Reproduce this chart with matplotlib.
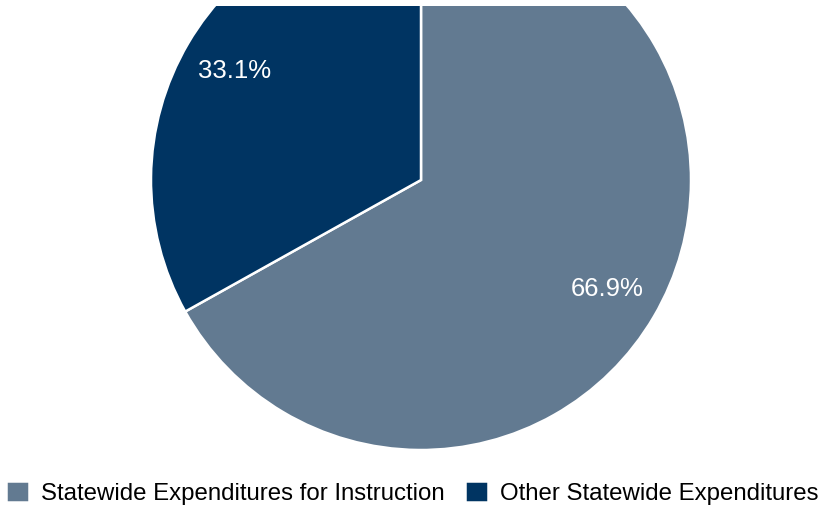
import matplotlib
matplotlib.use("Agg")
import matplotlib.pyplot as plt

labels = ["Statewide Expenditures for Instruction", "Other Statewide Expenditures"]
values = [66.9, 33.1]
colors = ["#627a91", "#003462"]

W, H = 825, 513
dpi = 100
fig = plt.figure(figsize=(W / dpi, H / dpi), dpi=dpi)
plt.rcParams['font.family'] = ['Liberation Sans', 'DejaVu Sans']

R = 270.0
cx, cy_top = 421.0, 180.0
top_clip = 6.0
ax = fig.add_axes([0, 0, 1, (H - top_clip) / H])
wedges, texts = ax.pie(values, colors=colors, startangle=90, counterclock=False,
                       labels=[f"{v:.1f}%" for v in values], labeldistance=0.8,
                       wedgeprops=dict(edgecolor="white", linewidth=1.8),
                       textprops=dict(color="white", fontsize=18.5))
for t in texts:
    t.set_ha("center"); t.set_va("center")
ax.set_xlim(-cx / R, (W - cx) / R)
ax.set_ylim(-(H - cy_top) / R, (cy_top - top_clip) / R)
ax.set_aspect("equal")
ax.axis("off")
for w in wedges:
    w.set_clip_on(True)
    w.set_clip_box(ax.bbox)

fig.legend(wedges, labels, loc="lower center", bbox_to_anchor=(0.5, -0.012), ncol=2,
           frameon=False, fontsize=17.3, handlelength=0.95, handleheight=0.95,
           handletextpad=0.5, columnspacing=0.85, borderaxespad=0.2)

fig.savefig("out.png", dpi=dpi)
